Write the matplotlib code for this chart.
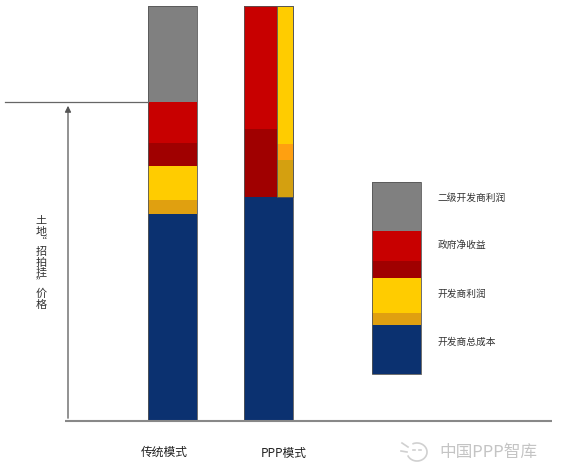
import matplotlib
matplotlib.use('Agg')
import matplotlib.pyplot as plt
from matplotlib.patches import Arc

plt.rcParams['font.family'] = ['Noto Sans CJK SC', 'DejaVu Sans']

# segment heights, bottom to top
trad_vals = [207, 14, 34, 23, 41, 96]
trad_colors = ['#0b3170', '#e0a010', '#ffcc00', '#a00000', '#c80000', '#808080']

ppp_base = 224
ppp_left_vals = [68, 123]
ppp_left_colors = ['#a00000', '#c80000']
ppp_right_vals = [37, 16, 138]
ppp_right_colors = ['#d4a010', '#ffa010', '#ffcc00']

legend_vals = [49, 12, 35, 17, 30, 49]
legend_labels = ['开发商总成本', '开发商利润', '政府净收益', '二级开发商利润']
legend_label_y = [79, 127, 176, 223]

land_price = 319
x_labels = ['传统模式', 'PPP模式']

fig = plt.figure(figsize=(5.62, 4.68), dpi=100)
ax = fig.add_axes([0, 0, 1, 1])
ax.set_xlim(0, 562)
ax.set_ylim(-47, 421)
ax.axis('off')

edge = '#555555'

# traditional bar
bottom = 0
for v, c in zip(trad_vals, trad_colors):
    ax.bar(172.5, v, width=49, bottom=bottom, color=c, edgecolor='none')
    bottom += v
ax.bar(172.5, bottom, width=49, bottom=0, fill=False, edgecolor=edge, linewidth=0.6)

# PPP bar
ax.bar(268.5, ppp_base, width=49, bottom=0, color='#0b3170', edgecolor='none')
bottom = ppp_base
for v, c in zip(ppp_left_vals, ppp_left_colors):
    ax.bar(260.5, v, width=33, bottom=bottom, color=c, edgecolor='none')
    bottom += v
bottom = ppp_base
for v, c in zip(ppp_right_vals, ppp_right_colors):
    ax.bar(285, v, width=16, bottom=bottom, color=c, edgecolor='none')
    bottom += v
ax.bar(285, sum(ppp_right_vals), width=16, bottom=ppp_base, fill=False, edgecolor=edge, linewidth=0.6)
ax.bar(268.5, ppp_base + sum(ppp_left_vals), width=49, bottom=0, fill=False, edgecolor=edge, linewidth=0.6)

# legend block
bottom = 47
for v, c in zip(legend_vals, trad_colors):
    ax.bar(396.5, v, width=49, bottom=bottom, color=c, edgecolor='none')
    bottom += v
ax.bar(396.5, sum(legend_vals), width=49, bottom=47, fill=False, edgecolor=edge, linewidth=0.6)
for lab, y in zip(legend_labels, legend_label_y):
    ax.text(438, y, lab, fontsize=7, color='#333333', va='center', ha='left')

# baseline, land price line and arrow
ax.plot([65, 552], [0, 0], color='#888888', linewidth=1.5, solid_capstyle='butt')
ax.plot([5, 148], [land_price, land_price], color='#666666', linewidth=0.9)
ax.annotate('', xy=(68, land_price - 1), xytext=(68, 0),
            arrowprops=dict(arrowstyle='-|>', color='#555555', lw=0.9, mutation_scale=9))

ylab = '土地“招拍挂”价格'
ax.text(41, 158, '\n'.join(ylab), fontsize=8, color='#333333', ha='center', va='center',
        linespacing=1.05)

ax.text(164, -31, x_labels[0], fontsize=8.5, color='#222222', ha='center', va='center')
ax.text(284, -32, x_labels[1], fontsize=8.5, color='#222222', ha='center', va='center')

# watermark
ax.text(488, -31, '中国PPP智库', fontsize=12, color='#c4c4c4', ha='center', va='center')
ax.add_patch(Arc((417, -31), 20, 18, theta1=200, theta2=480, color='#d0d0d0', lw=1.2))
ax.plot([402, 408], [-22, -26], color='#d0d0d0', lw=1.2)
ax.plot([401, 407], [-30, -31], color='#d0d0d0', lw=1.2)
ax.plot([413, 415], [-29, -29], color='#d0d0d0', lw=1.2)
ax.plot([419, 421], [-29, -29], color='#d0d0d0', lw=1.2)

fig.savefig('out.png', dpi=100)
